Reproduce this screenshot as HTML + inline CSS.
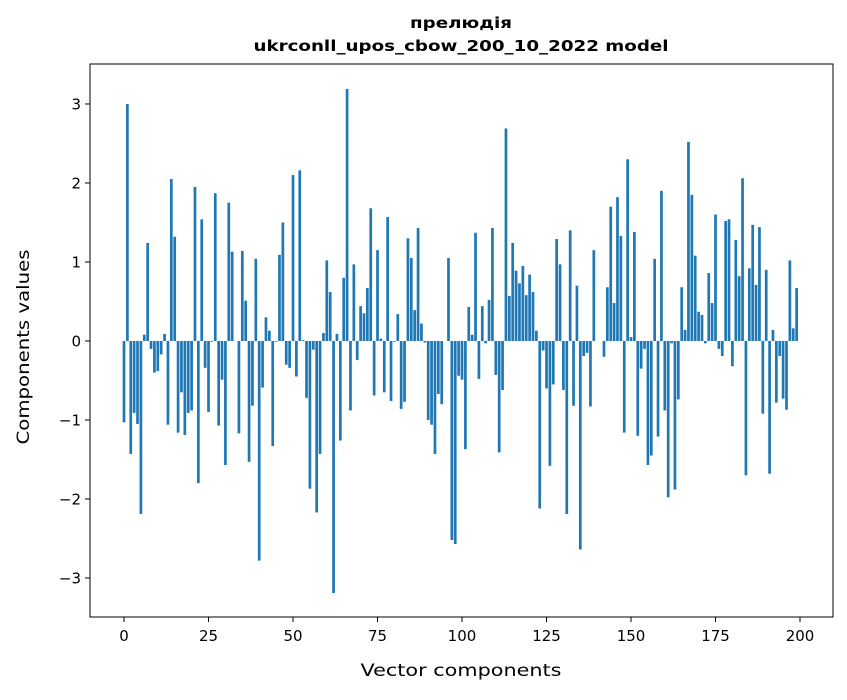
<!DOCTYPE html>
<html><head><meta charset="utf-8"><style>
body{margin:0;background:#fff;font-family:"DejaVu Sans","Liberation Sans",sans-serif;}
svg text{font-family:"DejaVu Sans","Liberation Sans",sans-serif;}
</style></head><body>
<svg id="chart" width="847" height="696" xmlns="http://www.w3.org/2000/svg">
<rect width="847" height="696" fill="#fff"/>
<text x="461" y="28" text-anchor="middle" font-size="15" font-weight="bold" textLength="102" lengthAdjust="spacingAndGlyphs">прелюдія</text>
<text x="461" y="51" text-anchor="middle" font-size="15" font-weight="bold" textLength="415" lengthAdjust="spacingAndGlyphs">ukrconll_upos_cbow_200_10_2022 model</text>
<g id="bars"></g>
<rect x="90" y="64" width="743" height="553" fill="none" stroke="#000" stroke-width="1"/>
<g id="xticks"></g>
<g id="yticks"></g>
<text x="461" y="676" text-anchor="middle" font-size="17" textLength="201" lengthAdjust="spacingAndGlyphs">Vector components</text>
<text transform="translate(29,347) rotate(-90)" text-anchor="middle" font-size="17" textLength="195" lengthAdjust="spacingAndGlyphs">Components values</text>
</svg>
<script>
const values = [-1.03,3.0,-1.43,-0.91,-1.05,-2.19,0.08,1.24,-0.1,-0.4,
-0.38,-0.17,0.09,-1.06,2.05,1.32,-1.16,-0.65,-1.19,-0.91,
-0.88,1.95,-1.8,1.54,-0.34,-0.9,-0.01,1.87,-1.07,-0.49,
-1.57,1.75,1.13,0.0,-1.17,1.14,0.51,-1.53,-0.82,1.04,
-2.78,-0.59,0.3,0.13,-1.33,-0.01,1.09,1.5,-0.3,-0.34,
2.1,-0.45,2.16,0.01,-0.72,-1.87,-0.11,-2.17,-1.43,0.1,
1.02,0.62,-3.19,0.09,-1.26,0.8,3.19,-0.88,0.97,-0.24,
0.44,0.35,0.67,1.68,-0.69,1.15,0.03,-0.65,1.57,-0.76,
-0.01,0.34,-0.86,-0.77,1.3,1.05,0.39,1.43,0.22,-0.02,
-1.0,-1.06,-1.43,-0.67,-0.8,0.0,1.05,-2.52,-2.57,-0.44,
-0.49,-1.37,0.43,0.08,1.37,-0.48,0.44,-0.03,0.52,1.43,
-0.43,-1.41,-0.62,2.69,0.57,1.24,0.89,0.73,0.95,0.58,
0.84,0.62,0.13,-2.12,-0.12,-0.6,-1.58,-0.55,1.29,0.97,
-0.62,-2.19,1.4,-0.82,0.7,-2.64,-0.19,-0.15,-0.83,1.15,
0.0,0.0,-0.2,0.68,1.7,0.48,1.82,1.33,-1.16,2.3,
0.05,1.38,-1.2,-0.35,-0.1,-1.57,-1.45,1.04,-1.21,1.9,
-0.88,-1.98,-0.03,-1.88,-0.74,0.68,0.14,2.52,1.85,1.08,
0.37,0.33,-0.03,0.86,0.48,1.6,-0.1,-0.19,1.52,1.54,
-0.32,1.28,0.82,2.06,-1.7,0.92,1.47,0.71,1.44,-0.92,
0.9,-1.68,0.14,-0.78,-0.19,-0.73,-0.87,1.02,0.16,0.67];
const xTicks = [0,25,50,75,100,125,150,175,200];
const yTicks = [-3,-2,-1,0,1,2,3];
const yTickLabels = ["\u22123","\u22122","\u22121","0","1","2","3"];

const X0=90,X1=833,Y0=64,Y1=617;
const xMin=-10.06,xMax=209.76,yMin=-3.494,yMax=3.506;
function xs(v){return X0+(v-xMin)/(xMax-xMin)*(X1-X0);}
function ys(v){return Y1-(v-yMin)/(yMax-yMin)*(Y1-Y0);}
const NS="http://www.w3.org/2000/svg";
const barsG=document.getElementById('bars');
const bw=xs(0.8)-xs(0);
values.forEach((v,i)=>{
  const r=document.createElementNS(NS,'rect');
  
  
  const y=Math.min(ys(v),ys(0));
  r.setAttribute('x',xs(i)-bw/2);
  r.setAttribute('y',y);
  r.setAttribute('width',bw);
  r.setAttribute('height',Math.abs(ys(v)-ys(0)));
  r.setAttribute('fill','#1f77b4');
  barsG.appendChild(r);
});
const xg=document.getElementById('xticks');
xTicks.forEach(t=>{
  const l=document.createElementNS(NS,'line');
  
  
  l.setAttribute('x1',xs(t));l.setAttribute('x2',xs(t));
  l.setAttribute('y1',Y1);l.setAttribute('y2',Y1+5);
  l.setAttribute('stroke','#000');
  xg.appendChild(l);
  const tx=document.createElementNS(NS,'text');
  
  
  tx.setAttribute('x',xs(t));tx.setAttribute('y',Y1+24);
  tx.setAttribute('text-anchor','middle');tx.setAttribute('font-size','15');
  tx.textContent=t;
  xg.appendChild(tx);
});
const yg=document.getElementById('yticks');
yTicks.forEach((t,i)=>{
  const l=document.createElementNS(NS,'line');
  
  
  l.setAttribute('x1',X0-5);l.setAttribute('x2',X0);
  l.setAttribute('y1',ys(t));l.setAttribute('y2',ys(t));
  l.setAttribute('stroke','#000');
  yg.appendChild(l);
  const tx=document.createElementNS(NS,'text');
  
  
  tx.setAttribute('x',X0-9);tx.setAttribute('y',ys(t)+5.5);
  tx.setAttribute('text-anchor','end');tx.setAttribute('font-size','15');
  tx.textContent=yTickLabels[i];
  yg.appendChild(tx);
});
</script>
</body></html>
